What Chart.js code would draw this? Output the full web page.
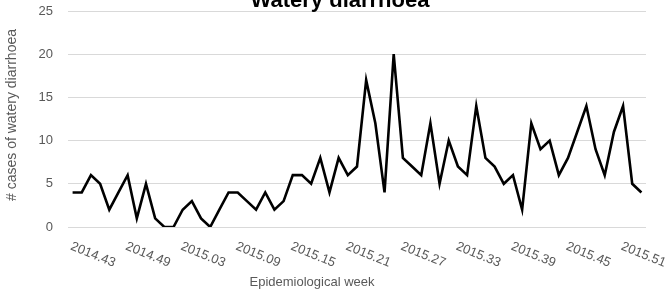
<!DOCTYPE html>
<html>
<head>
<meta charset="utf-8">
<script src="https://cdn.jsdelivr.net/npm/chart.js@4/dist/chart.umd.min.js"></script>
<style>
  html, body { margin: 0; padding: 0; background: #ffffff; }
  #wrap { width: 666px; height: 296px; }
</style>
</head>
<body>
<div id="wrap"><canvas id="c" width="666" height="296"></canvas></div>
<script>
const chartTitle = "Watery diarrhoea";
const xTitle = "Epidemiological week";
const yTitle = "# cases of watery diarrhoea";

const weeks = [
  "2014.43","2014.44","2014.45","2014.46","2014.47","2014.48","2014.49","2014.50","2014.51","2014.52",
  "2015.01","2015.02","2015.03","2015.04","2015.05","2015.06","2015.07","2015.08","2015.09","2015.10",
  "2015.11","2015.12","2015.13","2015.14","2015.15","2015.16","2015.17","2015.18","2015.19","2015.20",
  "2015.21","2015.22","2015.23","2015.24","2015.25","2015.26","2015.27","2015.28","2015.29","2015.30",
  "2015.31","2015.32","2015.33","2015.34","2015.35","2015.36","2015.37","2015.38","2015.39","2015.40",
  "2015.41","2015.42","2015.43","2015.44","2015.45","2015.46","2015.47","2015.48","2015.49","2015.50",
  "2015.51","2015.52","2015.53"
];

const cases = [
  4, 4, 6, 5, 2, 4, 6, 1, 5, 1,
  0, 0, 2, 3, 1, 0, 2, 4, 4, 3,
  2, 4, 2, 3, 6, 6, 5, 8, 4, 8,
  6, 7, 17, 12, 4, 20, 8, 7, 6, 12,
  5, 10, 7, 6, 14, 8, 7, 5, 6, 2,
  12, 9, 10, 6, 8, 11, 14, 9, 6, 11,
  14, 5, 4
];

const shownWeekLabels = ["2014.43","2014.49","2015.03","2015.09","2015.15","2015.21","2015.27","2015.33","2015.39","2015.45","2015.51"];
const yTickValues = [0, 5, 10, 15, 20, 25];

const textPlugin = {
  id: 'textPlugin',
  afterDraw(chart) {
    const ctx = chart.ctx;
    const xs = chart.scales.x;
    ctx.save();
    // Title
    ctx.fillStyle = '#000000';
    ctx.font = 'bold 22px "Liberation Sans", Arial, sans-serif';
    ctx.textAlign = 'center';
    ctx.textBaseline = 'alphabetic';
    ctx.fillText(chartTitle, 340, 7);

    // rotated x tick labels
    ctx.fillStyle = '#595959';
    ctx.font = '13px "Liberation Sans", Arial, sans-serif';
    ctx.textAlign = 'left';
    ctx.textBaseline = 'top';
    const ang = 22 * Math.PI / 180;
    weeks.forEach((w, i) => {
      if (shownWeekLabels.indexOf(w) === -1) return;
      const x = xs.getPixelForValue(i);
      ctx.save();
      ctx.translate(x + 1, 240);
      ctx.rotate(ang);
      ctx.fillText(w, 0, 0);
      ctx.restore();
    });

    // x axis title
    ctx.font = '13px "Liberation Sans", Arial, sans-serif';
    ctx.textAlign = 'center';
    ctx.textBaseline = 'middle';
    ctx.fillText(xTitle, 312, 282);

    // y axis title
    ctx.font = '14px "Liberation Sans", Arial, sans-serif';
    ctx.save();
    ctx.translate(12, 115);
    ctx.rotate(-Math.PI / 2);
    ctx.fillText(yTitle, 0, 0);
    ctx.restore();

    ctx.restore();
  }
};

new Chart(document.getElementById('c'), {
  type: 'line',
  data: {
    labels: weeks,
    datasets: [{
      data: cases,
      borderColor: '#000000',
      borderWidth: 2.6,
      pointRadius: 0,
      tension: 0,
      fill: false
    }]
  },
  options: {
    responsive: false,
    devicePixelRatio: 1,
    animation: false,
    layout: { padding: { top: 11, right: 20, bottom: 0, left: 0 } },
    plugins: { legend: { display: false }, title: { display: false }, tooltip: { enabled: false } },
    scales: {
      x: {
        type: 'category',
        offset: true,
        grid: { display: false, drawTicks: false },
        border: { display: false },
        ticks: { display: false },
        afterFit(scale) { scale.height = 69; scale.paddingLeft = 0; scale.paddingRight = 0; scale.paddingTop = 0; scale.paddingBottom = 0; }
      },
      y: {
        min: 0,
        max: 25,
        afterBuildTicks(scale) { scale.ticks = yTickValues.map(v => ({ value: v })); },
        grid: { color: '#d9d9d9', lineWidth: 1, drawTicks: false },
        border: { display: false },
        ticks: {
          padding: 15,
          color: '#595959',
          font: { family: '"Liberation Sans", Arial, sans-serif', size: 13 }
        },
        afterFit(scale) { scale.width = 68; scale.paddingTop = 0; scale.paddingBottom = 0; }
      }
    }
  },
  plugins: [textPlugin]
});
</script>
</body>
</html>
